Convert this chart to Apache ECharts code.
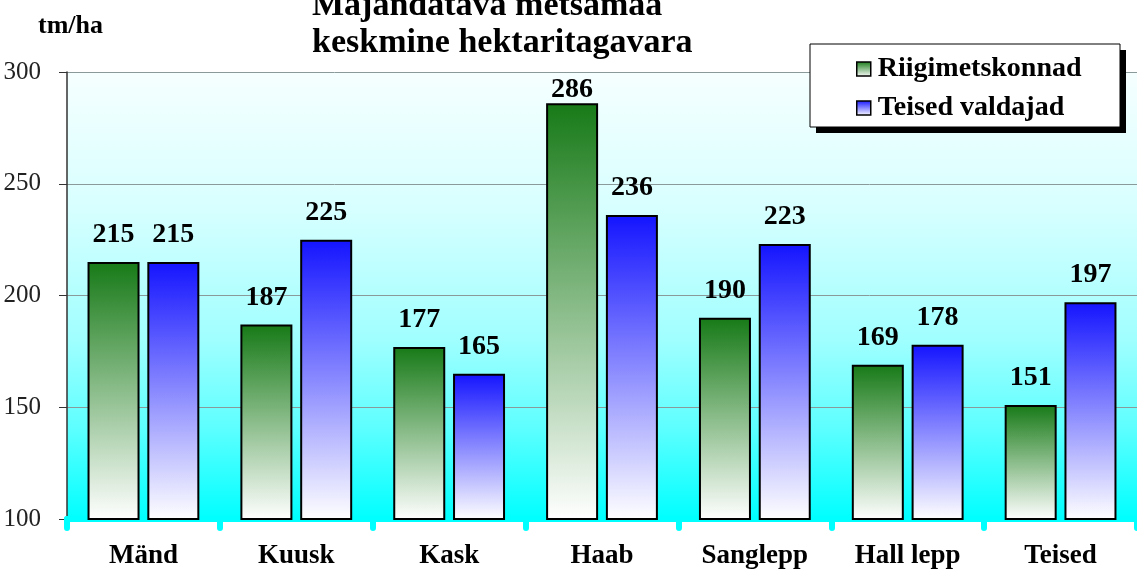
<!DOCTYPE html>
<html>
<head>
<meta charset="utf-8">
<script src="https://cdn.jsdelivr.net/npm/echarts@6/dist/echarts.min.js"></script>
<style>
  html, body { margin: 0; padding: 0; background: #fff; }
  #main { width: 1137px; height: 574px; }
</style>
</head>
<body>
<div id="main"></div>
<script>
// andmed
let puuliigid = ['Mänd', 'Kuusk', 'Kask', 'Haab', 'Sanglepp', 'Hall lepp', 'Teised']
let riigimetskonnad = [215, 187, 177, 286, 190, 169, 151]
let teisedValdajad = [215, 225, 165, 236, 223, 178, 197]
let yMin = 100, yMax = 300, yStep = 50

let serif = '"Liberation Serif", "DejaVu Serif", serif'

let chart = echarts.init(document.getElementById('main'))

// tulba üleminek: ülevalt värv, alt valge
function grad(top) {
    return {
        type: 'linear', x: 0, y: 0, x2: 0, y2: 1,
        colorStops: [
            { offset: 0, color: top },
            { offset: 1, color: '#ffffff' }
        ],
        global: false
    }
}

let labelStyle = {
    show: true,
    position: 'top',
    distance: 13,
    fontFamily: serif,
    fontWeight: 'bold',
    fontSize: 28,
    color: '#000'
}

// kõrgeim tulp on ülaservas, silt tuleb lähemale
let greenData = riigimetskonnad.map(v => v >= 280 ? { value: v, label: { distance: 0 } } : v)

let option = {
    animation: false,
    graphic: [{
        type: 'text',
        left: 512 - 200,
        top: -12,
        style: {
            text: 'Majandatava metsamaa\nkeskmine hektaritagavara',
            width: 400,
            align: 'center',
            fontFamily: serif,
            fontWeight: 'bold',
            fontSize: 34,
            lineHeight: 37,
            fill: '#000'
        }
    }, {
        type: 'text',
        left: 38,
        top: 13,
        style: {
            text: 'tm/ha',
            fontFamily: serif,
            fontWeight: 'bold',
            fontSize: 26,
            fill: '#000'
        }
    }, {
        // legendi kast varjuga
        type: 'rect',
        z: 10,
        shape: { x: 816, y: 50, width: 310, height: 83 },
        style: { fill: '#000' }
    }, {
        type: 'rect',
        z: 11,
        shape: { x: 810, y: 44, width: 310, height: 83 },
        style: { fill: '#fff', stroke: '#000', lineWidth: 1 }
    }],
    legend: {
        orient: 'vertical',
        left: 810,
        top: 45,
        z: 20,
        padding: [10, 20, 12, 46],
        itemGap: 11,
        itemWidth: 14,
        itemHeight: 14,
        icon: 'rect',
        itemStyle: { borderColor: '#000', borderWidth: 1.5 },
        textStyle: {
            fontFamily: serif,
            fontWeight: 'bold',
            fontSize: 28,
            lineHeight: 24,
            color: '#000',
            padding: [0, 0, 0, 2]
        },
        data: ['Riigimetskonnad', 'Teised valdajad']
    },
    grid: {
        left: 67,
        right: 0,
        top: 72,
        bottom: 55,
        show: true,
        borderWidth: 0,
        backgroundColor: {
            type: 'linear', x: 0, y: 0, x2: 0, y2: 1,
            colorStops: [
                { offset: 0, color: '#f6ffff' },
                { offset: 0.3, color: '#d8ffff' },
                { offset: 0.6, color: '#a0ffff' },
                { offset: 0.8, color: '#5cffff' },
                { offset: 1, color: '#00ffff' }
            ]
        }
    },
    xAxis: {
        type: 'category',
        data: puuliigid,
        axisLine: { lineStyle: { color: '#00ffff', width: 6 } },
        axisTick: { show: true, interval: 0, length: 9, lineStyle: { color: '#00ffff', width: 6, cap: 'round' } },
        axisLabel: {
            margin: 24,
            fontFamily: serif,
            fontWeight: 'bold',
            fontSize: 27,
            color: '#000'
        }
    },
    yAxis: {
        type: 'value',
        min: yMin,
        max: yMax,
        interval: yStep,
        axisLine: { show: true, lineStyle: { color: '#333', width: 1.5 } },
        axisTick: { show: true, length: 8, lineStyle: { color: '#333' } },
        splitLine: { lineStyle: { color: '#8a9a9a', width: 1 } },
        axisLabel: {
            margin: 26,
            fontFamily: serif,
            fontSize: 25,
            color: '#222'
        }
    },
    series: [{
        name: 'Riigimetskonnad',
        type: 'bar',
        data: greenData,
        barWidth: 52,
        barGap: '15%',
        itemStyle: { color: grad('#177a17'), borderColor: '#000', borderWidth: 2 },
        label: labelStyle
    }, {
        name: 'Teised valdajad',
        type: 'bar',
        data: teisedValdajad,
        barWidth: 52,
        barGap: '15%',
        itemStyle: { color: grad('#1414ff'), borderColor: '#000', borderWidth: 2 },
        label: labelStyle
    }]
}

chart.setOption(option)
</script>
</body>
</html>
